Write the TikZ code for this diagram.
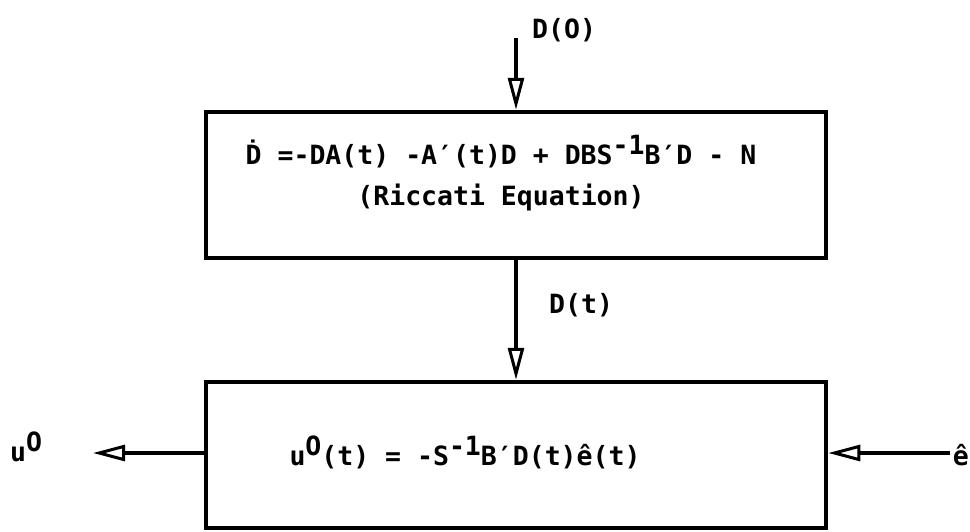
\documentclass[tikz,border=0pt]{standalone}
\usepackage{fontspec}
\setmonofont{DejaVu Sans Mono}
\usetikzlibrary{arrows.meta}
\newcommand{\supr}[1]{\raisebox{10pt}{#1}}
\begin{document}
\begin{tikzpicture}[x=1pt,y=-1pt,
  box/.style={draw, line width=4.5pt, minimum width=620pt, minimum height=146pt, inner sep=0pt},
  txt/.style={inner sep=0pt, font=\fontsize{26.5}{30}\selectfont\ttfamily\bfseries},
  flow/.style={draw, line width=4.5pt, -{Triangle[open,length=32pt,width=16pt,line width=3pt]}}]
\useasboundingbox (0,0) rectangle (970,531);
\fill[white] (0,0) rectangle (970,531);
\node[box] (ric) at (516,185) {};
\node[box] (ctl) at (516,455) {};
\node[txt] (l1) at (501,152) {Ḋ =-DA(t) -A′(t)D + DBS\supr{-1}B′D - N};
\node[txt] (l2) at (501,197) {(Riccati Equation)};
\node[txt] (l3) at (465,452) {u\supr{O}(t) = -S\supr{-1}B′D(t)ê(t)};
\coordinate (d0) at (516,38);
\node[txt, anchor=west] (d0l) at (532,30) {D(O)};
\node[txt, anchor=west] (dtl) at (549,305) {D(t)};
\coordinate (uout) at (93,453);
\node[txt, anchor=west] (ul) at (10,447) {u\supr{O}};
\coordinate (ein) at (950,453);
\node[txt, anchor=east] (el) at (969,455) {ê};
\draw[flow] (d0) -- (ric.north);
\draw[flow] (ric.south) -- (ctl.north);
\draw[flow] (ctl.west |- uout) -- (uout);
\draw[flow] (ein) -- (ctl.east |- ein);
\end{tikzpicture}
\end{document}
